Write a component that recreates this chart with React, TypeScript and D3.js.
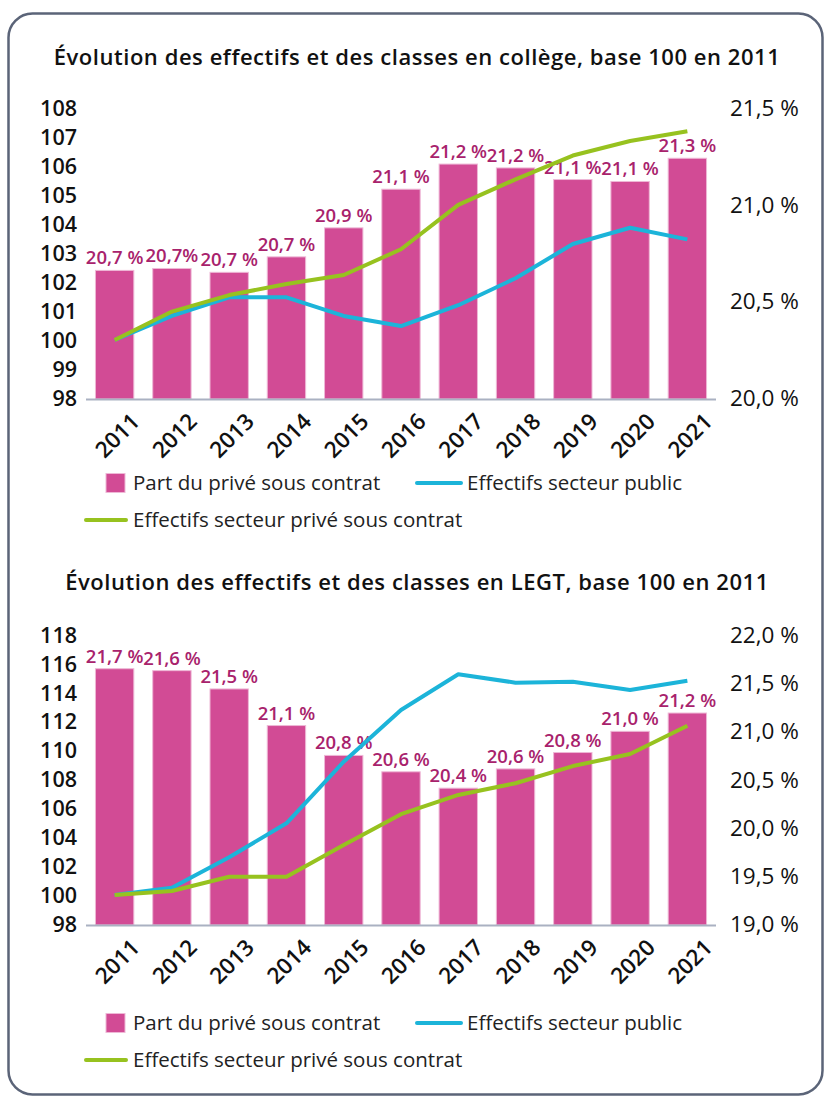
import React from "react";
import * as d3 from "d3";

const years = ["2011", "2012", "2013", "2014", "2015", "2016", "2017", "2018", "2019", "2020", "2021"];

// Collège
const collegeShare = [20.66, 20.67, 20.65, 20.73, 20.88, 21.08, 21.21, 21.19, 21.13, 21.12, 21.24];
const collegeShareLabels = ["20,7 %", "20,7%", "20,7 %", "20,7 %", "20,9 %", "21,1 %", "21,2 %", "21,2 %", "21,1 %", "21,1 %", "21,3 %"];
const collegePublic = [100, 100.83, 101.47, 101.47, 100.83, 100.48, 101.2, 102.13, 103.31, 103.87, 103.47];
const collegePrivate = [100, 100.98, 101.55, 101.93, 102.24, 103.13, 104.66, 105.54, 106.36, 106.86, 107.2];
const collegeLeftTicks = [98, 99, 100, 101, 102, 103, 104, 105, 106, 107, 108];
const collegeRightTicks = [20.0, 20.5, 21.0, 21.5];

// LEGT
const legtShare = [21.65, 21.63, 21.44, 21.06, 20.75, 20.58, 20.41, 20.61, 20.78, 21.0, 21.19];
const legtShareLabels = ["21,7 %", "21,6 %", "21,5 %", "21,1 %", "20,8 %", "20,6 %", "20,4 %", "20,6 %", "20,8 %", "21,0 %", "21,2 %"];
const legtPublic = [100, 100.51, 102.62, 104.97, 109.23, 112.81, 115.28, 114.7, 114.77, 114.19, 114.84];
const legtPrivate = [100, 100.28, 101.27, 101.27, 103.47, 105.6, 106.93, 107.74, 108.93, 109.76, 111.72];
const legtLeftTicks = [98, 100, 102, 104, 106, 108, 110, 112, 114, 116, 118];
const legtRightTicks = [19.0, 19.5, 20.0, 20.5, 21.0, 21.5, 22.0];

const titles = [
  "Évolution des effectifs et des classes en collège, base 100 en 2011",
  "Évolution des effectifs et des classes en LEGT, base 100 en 2011",
];
const legendLabels = ["Part du privé sous contrat", "Effectifs secteur public", "Effectifs secteur privé sous contrat"];

const BAR = "#d24b95";
const LABEL = "#a8226c";
const BLUE = "#1cb4d9";
const GREEN = "#97c21f";
const FONT = "'Open Sans', sans-serif";

const fmtPct = (v: number) => d3.format(".1f")(v).replace(".", ",") + " %";

type ChartProps = {
  title: string;
  titleY: number;
  top: number;
  bottom: number;
  share: number[];
  shareLabels: string[];
  pub: number[];
  priv: number[];
  leftTicks: number[];
  rightTicks: number[];
  legendY: number;
  legend2Y: number;
};

function Chart(p: ChartProps) {
  const x = d3.scaleBand<string>().domain(years).range([86, 716]).paddingInner(0.33).paddingOuter(0.165);
  const yL = d3.scaleLinear().domain([p.leftTicks[0], p.leftTicks[p.leftTicks.length - 1]]).range([p.bottom, p.top]);
  const yR = d3.scaleLinear().domain([p.rightTicks[0], p.rightTicks[p.rightTicks.length - 1]]).range([p.bottom, p.top]);
  const cx = (i: number) => (x(years[i]) as number) + x.bandwidth() / 2;
  const line = d3
    .line<number>()
    .x((_, i) => cx(i))
    .y((d) => yL(d));
  const axisY = p.bottom + 1.5;
  return (
    <g>
      <text x={417} y={p.titleY} textAnchor="middle" fontSize={22} fontWeight={600} letterSpacing={0.55} fill="#111" fontFamily={FONT}>
        {p.title}
      </text>
      {p.leftTicks.map((t) => (
        <text key={"l" + t} x={77} y={yL(t)} dy="0.36em" textAnchor="end" fontSize={21.5} fontWeight={600} fill="#111" fontFamily={FONT}>
          {t}
        </text>
      ))}
      {p.rightTicks.map((t) => (
        <text key={"r" + t} x={730} y={yR(t)} dy="0.36em" textAnchor="start" fontSize={22.5} fontWeight={500} fill="#111" fontFamily={FONT}>
          {fmtPct(t)}
        </text>
      ))}
      {p.share.map((v, i) => (
        <rect
          key={"b" + i}
          x={x(years[i])}
          y={yR(v)}
          width={x.bandwidth()}
          height={yR(p.rightTicks[0]) - yR(v) + 1}
          fill={BAR}
          stroke="#eeb8d6"
          strokeWidth={1}
        />
      ))}
      <line x1={86} x2={716} y1={axisY} y2={axisY} stroke="#aab1c2" strokeWidth={2} />
      {p.share.map((v, i) => (
        <text key={"t" + i} x={cx(i)} y={yR(v) - 6} textAnchor="middle" fontSize={18.5} fontWeight={600} fill={LABEL} fontFamily={FONT}>
          {p.shareLabels[i]}
        </text>
      ))}
      <path d={line(p.pub) || ""} fill="none" stroke={BLUE} strokeWidth={4} strokeLinejoin="round" />
      <path d={line(p.priv) || ""} fill="none" stroke={GREEN} strokeWidth={4} strokeLinejoin="round" />
      {years.map((yr, i) => (
        <text
          key={"y" + yr}
          transform={`translate(${cx(i) + 15},${axisY + 12}) rotate(-45)`}
          textAnchor="end"
          dy="0.72em"
          fontSize={22.5}
          fontWeight={600}
          fill="#111"
          fontFamily={FONT}
        >
          {yr}
        </text>
      ))}
      <rect x={106} y={p.legendY - 9.5} width={19} height={19} fill={BAR} stroke="#eeb8d6" strokeWidth={1} />
      <text x={133} y={p.legendY} dy="0.35em" fontSize={20.5} fill="#222" fontFamily={FONT}>
        {legendLabels[0]}
      </text>
      <line x1={417} x2={461} y1={p.legendY} y2={p.legendY} stroke={BLUE} strokeWidth={4} strokeLinecap="round" />
      <text x={467} y={p.legendY} dy="0.35em" fontSize={20.5} fill="#222" fontFamily={FONT}>
        {legendLabels[1]}
      </text>
      <line x1={86} x2={126} y1={p.legend2Y} y2={p.legend2Y} stroke={GREEN} strokeWidth={4} strokeLinecap="round" />
      <text x={133} y={p.legend2Y} dy="0.35em" fontSize={20.5} fill="#222" fontFamily={FONT}>
        {legendLabels[2]}
      </text>
    </g>
  );
}

export default function App() {
  return (
    <svg width={824} height={1097} style={{ position: "absolute", left: 0, top: 0, background: "#fff" }}>
      <rect x={8.5} y={13.5} width={814} height={1081} rx={24} fill="#fff" stroke="#5b6478" strokeWidth={2.5} />
      <Chart
        title={titles[0]}
        titleY={65}
        top={108}
        bottom={398}
        share={collegeShare}
        shareLabels={collegeShareLabels}
        pub={collegePublic}
        priv={collegePrivate}
        leftTicks={collegeLeftTicks}
        rightTicks={collegeRightTicks}
        legendY={483}
        legend2Y={520}
      />
      <Chart
        title={titles[1]}
        titleY={590}
        top={635}
        bottom={924}
        share={legtShare}
        shareLabels={legtShareLabels}
        pub={legtPublic}
        priv={legtPrivate}
        leftTicks={legtLeftTicks}
        rightTicks={legtRightTicks}
        legendY={1023}
        legend2Y={1060}
      />
    </svg>
  );
}
